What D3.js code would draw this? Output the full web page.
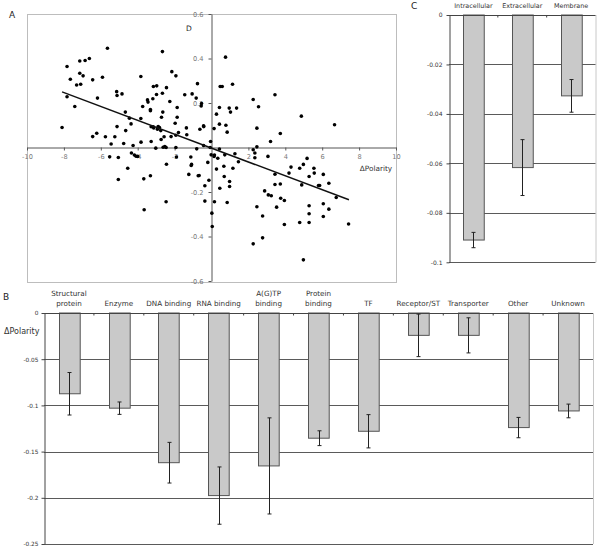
<!DOCTYPE html>
<html><head><meta charset="utf-8">
<script src="https://cdn.jsdelivr.net/npm/d3@7"></script>
<style>body{margin:0;background:#fff}svg{display:block}text{font-family:"DejaVu Sans",Verdana,sans-serif}</style>
</head><body><svg id="c" width="600" height="551"></svg>
<script>
// ---------- Panel A data ----------
const scatterX = [-8.10,-7.83,-7.83,-7.65,-7.41,-7.31,-7.14,-7.14,-7.09,-6.96,-6.85,-6.62,-6.44,-6.44,-6.22,-6.18,-5.91,-5.75,-5.64,-5.52,
-5.44,-5.24,-5.14,-5.12,-5.12,-5.05,-5.05,-4.85,-4.76,-4.67,-4.65,-4.54,-4.45,-4.36,-4.34,-4.25,-4.18,-4.09,-4.00,-3.83,
-3.83,-3.82,-3.73,-3.67,-3.65,-3.47,-3.44,-3.31,-3.31,-3.27,-3.27,-3.31,-3.18,-3.16,-3.15,-3.13,-3.02,-2.98,-2.97,-2.93,
-2.89,-2.82,-2.75,-2.71,-2.73,-2.66,-2.66,-2.64,-2.62,-2.57,-2.53,-2.46,-2.44,-2.44,-2.46,-2.26,-2.19,-2.15,-1.93,-1.97,
-1.93,-1.93,-1.90,-1.86,-1.86,-1.79,-1.45,-1.36,-1.34,-1.23,-1.12,-1.10,-1.08,-1.05,-0.83,-0.76,-0.72,-0.67,-0.63,-0.56,
-0.54,-0.43,-0.42,-0.43,-0.36,-0.20,-0.14,-0.05,-0.02,0.02,0.04,0.14,0.16,0.16,0.14,0.27,0.27,0.34,0.43,0.43,
0.43,0.45,0.47,0.58,0.67,0.69,0.72,0.76,0.78,0.85,0.85,0.96,0.98,0.98,1.03,1.14,1.16,1.27,1.36,1.46,
2.26,2.26,2.26,2.35,2.35,2.46,2.46,2.46,2.55,2.77,2.77,2.88,3.06,3.08,3.20,3.24,3.44,3.44,3.44,3.53,
3.73,3.73,3.75,3.95,3.95,4.20,4.31,4.78,4.78,4.87,4.89,4.98,4.98,5.18,5.29,5.29,5.29,5.29,5.55,5.57,
5.80,5.86,6.06,6.06,6.06,6.36,6.36,6.67,6.76,7.43,-0.80,-0.36,-0.07];
const scatterY = [0.090,0.364,0.228,0.307,0.184,0.281,0.334,0.389,0.284,0.322,0.391,0.400,0.304,0.049,0.064,0.222,0.316,0.048,0.446,-0.042,
0.016,0.048,0.251,0.234,0.094,-0.045,-0.144,0.241,0.018,0.159,0.076,-0.093,0.132,0.106,-0.025,0.009,-0.034,-0.039,-0.040,0.319,
0.130,0.024,0.184,-0.141,-0.280,0.214,0.204,0.171,0.165,0.093,0.027,-0.127,0.219,0.093,0.274,0.088,-0.003,0.238,0.277,0.082,
0.094,0.090,0.076,0.136,0.036,0.431,0.244,0.159,0.001,0.048,0.004,0.000,-0.075,0.269,-0.244,0.207,0.049,0.341,0.322,0.109,
0.055,0.000,-0.043,0.180,0.136,0.067,0.237,0.088,0.057,-0.121,-0.043,-0.081,-0.076,0.241,0.222,0.287,-0.127,-0.126,0.082,0.187,
0.198,0.097,0.094,0.009,-0.241,-0.067,-0.147,0.027,-0.033,-0.295,-0.355,-0.040,-0.034,-0.244,0.085,-0.097,0.150,-0.048,0.180,0.105,
-0.007,-0.183,0.274,0.274,-0.084,-0.130,-0.033,0.406,0.100,0.069,-0.247,0.177,-0.153,-0.175,0.159,0.284,-0.093,-0.028,0.177,-0.064,
0.216,-0.010,-0.433,-0.025,-0.046,-0.266,0.087,0.003,0.183,-0.308,-0.406,-0.195,-0.040,-0.213,0.027,-0.217,-0.120,0.237,-0.166,-0.268,
-0.164,0.063,-0.228,-0.238,-0.346,-0.115,-0.088,-0.093,-0.337,0.141,-0.168,-0.076,-0.505,-0.049,-0.130,-0.262,-0.298,-0.337,-0.093,-0.115,
-0.171,-0.171,-0.121,-0.253,-0.310,-0.161,-0.277,0.102,-0.225,-0.344,-0.006,-0.172,0.000];
const fitX = [-8.1, 7.45];
const fitY = [0.25, -0.235];
const xTicksA = [-10,-8,-6,-4,-2,2,4,6,8,10];
const yTicksA = [-0.6,-0.4,-0.2,0.2,0.4,0.6];

// ---------- Panel B data ----------
const funcCats = ["Structural\nprotein","Enzyme","DNA binding","RNA binding","A(G)TP\nbinding","Protein\nbinding","TF","Receptor/ST","Transporter","Other","Unknown"];
const funcVals = [-0.0874,-0.103,-0.162,-0.1976,-0.1655,-0.1355,-0.128,-0.0242,-0.0242,-0.124,-0.106];
const funcErr  = [0.023,0.0067,0.022,0.031,0.052,0.008,0.018,0.023,0.019,0.011,0.0074];
const yTicksB = [0,-0.05,-0.1,-0.15,-0.2,-0.25];
const yLabelsB = ["0","-0.05","-0.1","-0.15","-0.2","-0.25"];

// ---------- Panel C data ----------
const locCats = ["Intracellular","Extracellular","Membrane"];
const locVals = [-0.091,-0.0617,-0.0327];
const locErr  = [0.0031,0.0113,0.0066];
const yTicksC = [0,-0.02,-0.04,-0.06,-0.08,-0.1];
const yLabelsC = ["0","-0.02","-0.04","-0.06","-0.08","-0.1"];

const svg = d3.select("#c");

// ================= Panel A =================
const xA = d3.scaleLinear().domain([-10,10]).range([27,396]);
const yA = d3.scaleLinear().domain([-0.6,0.6]).range([281,14]);
const gA = svg.append("g");
gA.append("rect").attr("x",27.5).attr("y",14.5).attr("width",369).attr("height",268)
  .attr("fill","none").attr("stroke","#bdbdbd");
const axA1 = gA.append("g").attr("transform",`translate(0,${yA(0)})`)
  .call(d3.axisBottom(xA).tickValues(xTicksA).tickSize(3).tickSizeOuter(0).tickPadding(4).tickFormat(d=>d));
const axA2 = gA.append("g").attr("transform",`translate(${xA(0)},0)`)
  .call(d3.axisLeft(yA).tickValues(yTicksA).tickSize(3).tickSizeOuter(0).tickPadding(5).tickFormat(d=>d));
[axA1,axA2].forEach(a=>{
  a.select(".domain").attr("stroke","#555");
  a.selectAll(".tick line").attr("stroke","#555");
  a.selectAll(".tick text").attr("fill","#777").style("font-size","6.6px").style("font-family","DejaVu Sans");
});
gA.selectAll("circle.pt").data(scatterX.map((x,i)=>[x,scatterY[i]])).join("circle")
  .attr("class","pt").attr("cx",d=>xA(d[0])).attr("cy",d=>yA(d[1])).attr("r",1.8).attr("fill","#000");
gA.append("line").attr("x1",xA(fitX[0])).attr("y1",yA(fitY[0])).attr("x2",xA(fitX[1])).attr("y2",yA(fitY[1]))
  .attr("stroke","#111").attr("stroke-width",1.5);
gA.append("text").attr("x",189).attr("y",31).attr("text-anchor","middle").style("font-size","7.5px").attr("fill","#222").text("D");
gA.append("text").attr("x",376).attr("y",170.5).attr("text-anchor","middle").style("font-size","7.3px").attr("fill","#333").text("ΔPolarity");
svg.append("text").attr("x",9).attr("y",18).style("font-size","9px").attr("fill","#222").text("A");
svg.append("text").attr("x",411).attr("y",9).style("font-size","9px").attr("fill","#222").text("C");
svg.append("text").attr("x",3).attr("y",300).style("font-size","9px").attr("fill","#222").text("B");

// helper for bar panels
function barPanel(cats, vals, errs, ticks, tickLabels, x0, x1, yTop, yBot, yMin, opts){
  const g = svg.append("g");
  const x = d3.scaleBand().domain(cats).range([x0,x1]).paddingInner(opts.pad).paddingOuter(opts.pad/2);
  const y = d3.scaleLinear().domain([yMin,0]).range([yBot,yTop]);
  // right border
  g.append("line").attr("x1",x1+0.5).attr("x2",x1+0.5).attr("y1",yTop).attr("y2",y(yMin)).attr("stroke","#c8c8c8");
  // gridlines
  g.selectAll("line.grid").data(ticks.filter(t=>t!==0)).join("line").attr("class","grid")
    .attr("x1",x0).attr("x2",x1).attr("y1",d=>Math.round(y(d))+0.5).attr("y2",d=>Math.round(y(d))+0.5)
    .attr("stroke","#5a5a5a").attr("stroke-width",1);
  // y axis
  const ay = g.append("g").attr("transform",`translate(${x0+0.5},0)`)
    .call(d3.axisLeft(y).tickValues(ticks).tickSize(3).tickSizeOuter(0).tickPadding(opts.tp).tickFormat((d,i)=>tickLabels[i]));
  ay.select(".domain").attr("stroke","#444");
  ay.selectAll(".tick line").attr("stroke","#444");
  ay.selectAll(".tick text").attr("fill","#333").style("font-size",opts.tickFont).style("font-family","DejaVu Sans");
  // bars
  g.selectAll("rect.bar").data(cats).join("rect").attr("class","bar")
    .attr("x",d=>Math.round(x(d))+0.5).attr("y",y(0))
    .attr("width",x.bandwidth()).attr("height",(d,i)=>y(vals[i])-y(0))
    .attr("fill","#c9c9c9").attr("stroke","#555").attr("stroke-width",1);
  // top axis line with boundary ticks
  g.append("line").attr("x1",x0).attr("x2",x1).attr("y1",Math.round(y(0))+0.5).attr("y2",Math.round(y(0))+0.5).attr("stroke","#444");
  g.selectAll("line.bt").data(d3.range(1,cats.length)).join("line").attr("class","bt")
    .attr("x1",i=>x0+i*x.step()).attr("x2",i=>x0+i*x.step())
    .attr("y1",y(0)).attr("y2",y(0)+2.5).attr("stroke","#444");
  // error bars
  const eb = g.selectAll("g.eb").data(cats).join("g").attr("class","eb");
  const cx = d=>Math.round(x(d)+x.bandwidth()/2)+0.5;
  eb.append("line").attr("x1",cx).attr("x2",cx)
    .attr("y1",(d,i)=>y(vals[i]+errs[i])).attr("y2",(d,i)=>y(vals[i]-errs[i])).attr("stroke","#222");
  eb.append("line").attr("x1",d=>cx(d)-2).attr("x2",d=>cx(d)+2)
    .attr("y1",(d,i)=>y(vals[i]+errs[i])).attr("y2",(d,i)=>y(vals[i]+errs[i])).attr("stroke","#222");
  eb.append("line").attr("x1",d=>cx(d)-2).attr("x2",d=>cx(d)+2)
    .attr("y1",(d,i)=>y(vals[i]-errs[i])).attr("y2",(d,i)=>y(vals[i]-errs[i])).attr("stroke","#222");
  // category labels
  cats.forEach(c=>{
    const lines = c.split("\n");
    const t = g.append("text").attr("text-anchor","middle").style("font-size",opts.catFont).attr("fill","#333");
    lines.forEach((ln,k)=>{
      t.append("tspan").attr("x",x(c)+x.bandwidth()/2)
        .attr("y",opts.catBase-(lines.length-1-k)*opts.lh).text(ln);
    });
  });
  return {g,x,y};
}

const B = barPanel(funcCats, funcVals, funcErr, yTicksB, yLabelsB, 44, 593, 313, 544, -0.25,
  {pad:0.585, tp:3, tickFont:"5.8px", catFont:"7.2px", catBase:306, lh:10});
B.g.append("text").attr("x",4).attr("y",334).style("font-size","8px").attr("fill","#333").text("ΔPolarity");

const C = barPanel(locCats, locVals, locErr, yTicksC, yLabelsC, 449, 595.5, 15, 262.3, -0.1,
  {pad:0.575, tp:4, tickFont:"6px", catFont:"6.4px", catBase:7.5, lh:9});
</script></body></html>
